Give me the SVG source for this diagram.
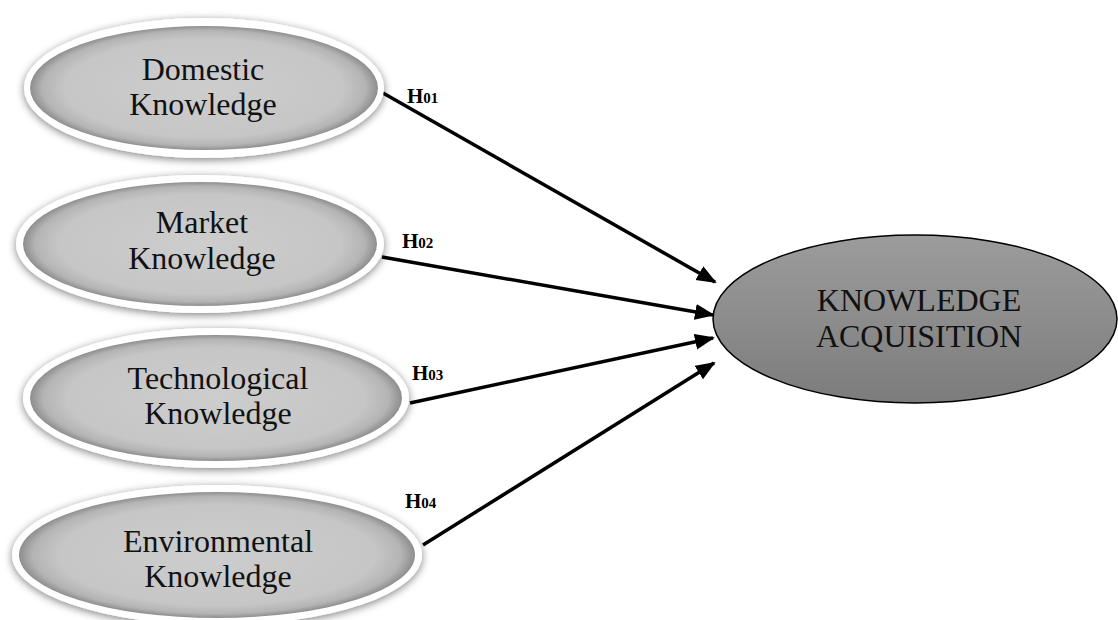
<svg xmlns="http://www.w3.org/2000/svg" width="1118" height="620" viewBox="0 0 1118 620">
<style>
  .lbl{font-family:"Liberation Serif","Times New Roman",serif;font-size:32px;fill:#111;text-anchor:middle}
  .big{font-family:"Liberation Serif","Times New Roman",serif;font-size:32px;fill:#111;text-anchor:middle}
  .h{font-family:"Liberation Serif","Times New Roman",serif;font-size:21px;font-weight:bold;fill:#000}
  .sub{font-size:15px}
  .ring{fill:#fff;filter:url(#shadow)}
  .inner{fill:url(#innerGrad)}
  .conn{stroke:#000;stroke-width:3.5;fill:none;marker-end:url(#arrow)}
</style>
<defs>
  <filter id="shadow" x="-10%" y="-20%" width="120%" height="140%">
    <feGaussianBlur in="SourceAlpha" stdDeviation="4"/>
    <feOffset dx="0" dy="2" result="b"/>
    <feComponentTransfer><feFuncA type="linear" slope="0.5"/></feComponentTransfer>
    <feMerge><feMergeNode/><feMergeNode in="SourceGraphic"/></feMerge>
  </filter>
  <radialGradient id="innerGrad" cx="50%" cy="50%" r="50%">
    <stop offset="0" stop-color="#cdcdcd"/>
    <stop offset="0.8" stop-color="#c6c6c6"/>
    <stop offset="0.93" stop-color="#b4b4b4"/>
    <stop offset="1" stop-color="#8e8e8e"/>
  </radialGradient>
  <linearGradient id="bigGrad" x1="0" y1="0" x2="0" y2="1">
    <stop offset="0" stop-color="#9c9c9c"/>
    <stop offset="1" stop-color="#7c7c7c"/>
  </linearGradient>
  <marker id="arrow" markerUnits="userSpaceOnUse" markerWidth="22" markerHeight="18" refX="18" refY="8" orient="auto">
    <path d="M0,0 L20,8 L0,16 z" fill="#000"/>
  </marker>
</defs>

<g id="connectors">
  <line class="conn" x1="383" y1="93" x2="715" y2="282"/>
  <line class="conn" x1="382" y1="257" x2="713" y2="315"/>
  <line class="conn" x1="410" y1="403" x2="713" y2="338"/>
  <line class="conn" x1="423" y1="545" x2="714" y2="363"/>
  <text class="h" x="407" y="103">H<tspan class="sub">01</tspan></text>
  <text class="h" x="402" y="248">H<tspan class="sub">02</tspan></text>
  <text class="h" x="412" y="380">H<tspan class="sub">03</tspan></text>
  <text class="h" x="405" y="508">H<tspan class="sub">04</tspan></text>
</g>

<g id="domestic">
  <ellipse class="ring" cx="204" cy="88" rx="180" ry="70"/>
  <ellipse class="inner" cx="204" cy="88" rx="174" ry="62"/>
  <text class="lbl" x="203" y="80">Domestic</text>
  <text class="lbl" x="203" y="115">Knowledge</text>
</g>

<g id="market">
  <ellipse class="ring" cx="200" cy="244" rx="184" ry="69"/>
  <ellipse class="inner" cx="200" cy="244" rx="177" ry="62"/>
  <text class="lbl" x="202" y="233">Market</text>
  <text class="lbl" x="202" y="269">Knowledge</text>
</g>

<g id="technological">
  <ellipse class="ring" cx="216" cy="398" rx="193" ry="70"/>
  <ellipse class="inner" cx="216" cy="398" rx="186" ry="63"/>
  <text class="lbl" x="218" y="389">Technological</text>
  <text class="lbl" x="218" y="424">Knowledge</text>
</g>

<g id="environmental">
  <ellipse class="ring" cx="217" cy="555" rx="205" ry="70"/>
  <ellipse class="inner" cx="217" cy="555" rx="198" ry="63"/>
  <text class="lbl" x="218" y="552">Environmental</text>
  <text class="lbl" x="218" y="587">Knowledge</text>
</g>

<g id="acquisition">
  <ellipse cx="915" cy="319" rx="202" ry="84" fill="url(#bigGrad)" stroke="#000" stroke-width="1.5"/>
  <text class="big" x="919" y="311">KNOWLEDGE</text>
  <text class="big" x="919" y="347">ACQUISITION</text>
</g>
</svg>
